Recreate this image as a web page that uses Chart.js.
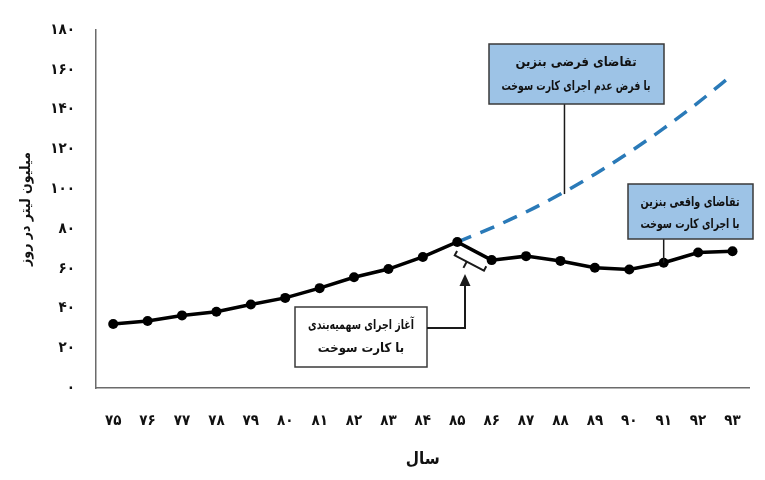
<!DOCTYPE html>
<html lang="fa">
<head>
  <meta charset="UTF-8" />
  <title>تقاضای بنزین</title>
  <script src="https://cdn.jsdelivr.net/npm/chart.js"></script>
  <style>
    html, body { margin: 0; padding: 0; background: #fff; }
    #wrap { width: 765px; height: 480px; }
  </style>
</head>
<body>
<div id="wrap"><canvas id="nemudar" width="765" height="480"></canvas></div>
<script>
  // داده‌ها
  const years = ['۷۵', '۷۶', '۷۷', '۷۸', '۷۹', '۸۰', '۸۱', '۸۲', '۸۳', '۸۴', '۸۵', '۸۶', '۸۷', '۸۸', '۸۹', '۹۰', '۹۱', '۹۲', '۹۳'];
  const actualDemand = [32.2, 33.7, 36.5, 38.3, 42, 45.3, 50.2, 55.7, 59.8, 65.9, 73.4, 64.3, 66.3, 63.9, 60.5, 59.6, 63, 68.1, 68.8];
  const hypotheticalDemand = [null, null, null, null, null, null, null, null, null, null, 73.4, 80.5, 88.5, 97.5, 107.5, 118.5, 130.5, 143.5, 157.5];
  const yTicks = [0, 20, 40, 60, 80, 100, 120, 140, 160, 180];

  const yTitle = 'میلیون لیتر در روز';
  const xTitle = 'سال';
  const boxHypothetical = ['تقاضای فرضی بنزین', 'با فرض عدم اجرای کارت سوخت'];
  const boxActual = ['تقاضای واقعی بنزین', 'با اجرای کارت سوخت'];
  const boxStart = ['آغاز اجرای سهمیه‌بندی', 'با کارت سوخت'];

  const FONT = "'DejaVu Sans Condensed', 'DejaVu Sans', sans-serif";

  function faDigits(n) {
    return String(n).replace(/[0-9]/g, d => '۰۱۲۳۴۵۶۷۸۹'[d]);
  }

  // جعبه‌ها و پیکان‌ها
  const annotations = {
    id: 'annotations',
    afterDatasetsDraw(chart) {
      const c = chart.ctx;
      const xs = chart.scales.x, ys = chart.scales.y;
      const px = i => xs.getPixelForValue(i);
      const py = v => ys.getPixelForValue(v);

      function box(x, y, w, h, fill, lines, cx, lineY) {
        c.save();
        c.fillStyle = fill;
        c.fillRect(x, y, w, h);
        c.strokeStyle = '#3a3a3a';
        c.lineWidth = 1.5;
        c.strokeRect(x, y, w, h);
        c.fillStyle = '#111';
        c.font = 'bold 13px ' + FONT;
        c.textAlign = 'center';
        c.textBaseline = 'middle';
        c.direction = 'rtl';
        lines.forEach((t, k) => c.fillText(t, cx, lineY[k], w - 26));
        c.restore();
      }

      function line(pts, width) {
        c.save();
        c.strokeStyle = '#1a1a1a';
        c.lineWidth = width;
        c.beginPath();
        c.moveTo(pts[0][0], pts[0][1]);
        for (let k = 1; k < pts.length; k++) c.lineTo(pts[k][0], pts[k][1]);
        c.stroke();
        c.restore();
      }

      // کادر تقاضای فرضی
      const hx = px(13) + 4, hy = py(hypotheticalDemand[13]);
      line([[hx, 104], [hx, hy]], 1.5);
      box(489, 44, 175, 60, '#9dc3e6', boxHypothetical, 576, [63, 87]);

      // کادر تقاضای واقعی
      const ax = px(16), ay = py(actualDemand[16]);
      line([[ax, 239], [ax, ay]], 1.5);
      box(628, 184, 125, 55, '#9dc3e6', boxActual, 690, [203, 225]);

      // براکت زیر خط ۸۵ تا ۸۶
      const p0 = [px(10), py(actualDemand[10])];
      const p1 = [px(11), py(actualDemand[11])];
      const dx = p1[0] - p0[0], dy = p1[1] - p0[1];
      const len = Math.hypot(dx, dy);
      const d = [dx / len, dy / len];
      const n = [-d[1], d[0]];
      const off = 13;
      const s = [p0[0] + n[0] * off + d[0] * 4, p0[1] + n[1] * off + d[1] * 4];
      const e = [s[0] + d[0] * 33, s[1] + d[1] * 33];
      const m = [(s[0] + e[0]) / 2 - d[0] * 3, (s[1] + e[1]) / 2 - d[1] * 3];
      line([[s[0] - n[0] * 5, s[1] - n[1] * 5], s, e, [e[0] - n[0] * 5, e[1] - n[1] * 5]], 2);
      line([m, [m[0] + n[0] * 7, m[1] + n[1] * 7]], 2);

      // کادر آغاز سهمیه‌بندی و پیکان
      box(295, 307, 132, 60, '#ffffff', boxStart, 361, [326, 349]);
      line([[427, 328], [465, 328], [465, 284]], 2);
      c.save();
      c.fillStyle = '#1a1a1a';
      c.beginPath();
      c.moveTo(465, 274);
      c.lineTo(459.5, 286);
      c.lineTo(470.5, 286);
      c.closePath();
      c.fill();
      c.restore();
    }
  };

  const ctx = document.getElementById('nemudar').getContext('2d');
  const chart = new Chart(ctx, {
    type: 'line',
    data: {
      labels: years,
      datasets: [
        {
          label: 'تقاضای فرضی',
          data: hypotheticalDemand,
          borderColor: '#2a7ab8',
          borderWidth: 3.5,
          borderDash: [15, 10],
          pointRadius: 0,
          cubicInterpolationMode: 'monotone',
          order: 2
        },
        {
          label: 'تقاضای واقعی',
          data: actualDemand,
          borderColor: '#000',
          backgroundColor: '#000',
          borderWidth: 3.5,
          pointRadius: 5,
          pointBackgroundColor: '#000',
          pointBorderWidth: 0,
          tension: 0,
          order: 1
        }
      ]
    },
    options: {
      responsive: false,
      animation: false,
      layout: { padding: { left: 0, right: 10, top: 26, bottom: 0 } },
      plugins: {
        legend: { display: false },
        tooltip: { enabled: false }
      },
      scales: {
        x: {
          offset: true,
          grid: { display: false, drawTicks: false },
          border: { display: true, color: '#6b6b6b', width: 1.5 },
          ticks: {
            color: '#111',
            padding: 24,
            maxRotation: 0,
            autoSkip: false,
            font: { family: FONT, size: 15, weight: 'bold' }
          },
          title: {
            display: true,
            text: xTitle,
            color: '#111',
            padding: { top: 0, bottom: 10 },
            font: { family: FONT, size: 17, weight: 'bold' }
          },
          afterFit: s => { s.height = 92; }
        },
        y: {
          min: 0,
          max: 180,
          afterBuildTicks: s => { s.ticks = yTicks.map(v => ({ value: v })); },
          grid: { display: false, drawTicks: false },
          border: { display: true, color: '#6b6b6b', width: 1.5 },
          ticks: {
            color: '#111',
            padding: 21,
            font: { family: FONT, size: 15, weight: 'bold' },
            callback: v => faDigits(v)
          },
          title: {
            display: true,
            text: yTitle,
            color: '#111',
            padding: { top: 18, bottom: 0 },
            font: { family: FONT, size: 14, weight: 'bold' }
          },
          afterFit: s => { s.width = 96; }
        }
      }
    },
    plugins: [annotations]
  });
</script>
</body>
</html>
